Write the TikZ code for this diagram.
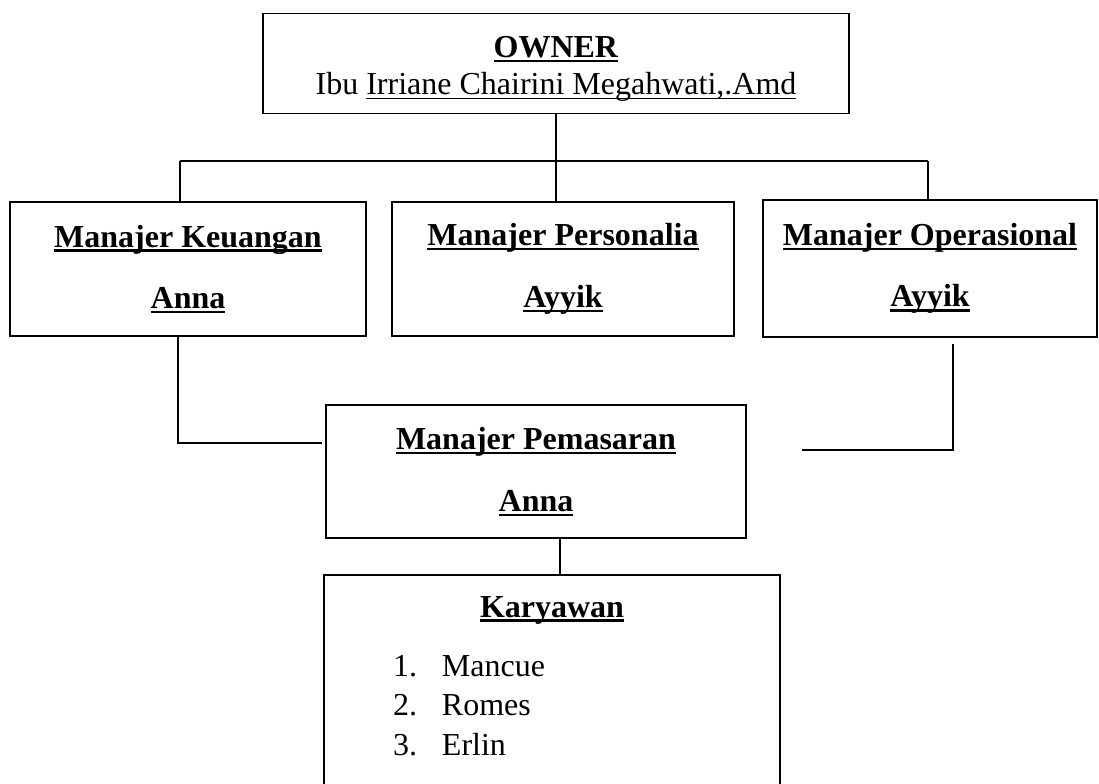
\documentclass[tikz,border=0pt]{standalone}
\usepackage{fontspec}
\setmainfont{Liberation Serif}
\usetikzlibrary{positioning, calc}
\newsavebox{\garisbox}
\newcommand{\garis}[1]{\sbox\garisbox{#1}\usebox\garisbox\llap{\rule[-2.3pt]{\wd\garisbox}{1.1pt}}}
\newcommand{\garistipis}[1]{\sbox\garisbox{#1}\usebox\garisbox\llap{\rule[-2.1pt]{\wd\garisbox}{0.6pt}}}
\newcommand{\jabatan}[2]{\garis{\textbf{#1}}\\[12.4pt]\garis{\textbf{#2}}}
\tikzset{
  kotak/.style = {draw=black, line width=0.9pt, rectangle, align=center,
    inner sep=0pt, font=\fontsize{16pt}{18.4pt}\selectfont},% kotak jabatan
  garisan/.style = {draw=black, line width=0.7pt}% garis penghubung
}
\begin{document}
\begin{tikzpicture}[x=0.5pt, y=-0.5pt]
\useasboundingbox (0,0) rectangle (1099,783);
\clip (0,0) rectangle (1099,783);
% kotak-kotak
\node [kotak, minimum width=293pt, minimum height=50pt] (owner) at (556,63.5)
  {\rule{0pt}{15.8pt}\garis{\textbf{OWNER}}\\[0.3pt] Ibu \garistipis{Irriane Chairini Megahwati,.Amd}};
\node [kotak, minimum width=178pt, minimum height=67pt] (keuangan) at (188,269)
  {\jabatan{Manajer Keuangan}{Anna}};
\node [kotak, minimum width=171pt, minimum height=67pt] (personalia) at (563,269)
  {\jabatan{Manajer Personalia}{Ayyik}};
\node [kotak, minimum width=167pt, minimum height=68.5pt] (operasional) at (930,268.5)
  {\jabatan{Manajer Operasional}{Ayyik}};
\node [kotak, minimum width=210pt, minimum height=66.5pt] (pemasaran) at (536,471.5)
  {\jabatan{Manajer Pemasaran}{Anna}};
\node [kotak, anchor=north] (karyawan) at (552,574)
  {\parbox[c][120pt][t]{228pt}{\fontsize{16pt}{19.75pt}\selectfont
    \vspace*{10.6pt}\centering\garis{\textbf{Karyawan}}\par
    \vspace{9.75pt}\raggedright
    \hspace*{34.5pt}\makebox[24.5pt][l]{1.}Mancue\par
    \hspace*{34.5pt}\makebox[24.5pt][l]{2.}Romes\par
    \hspace*{34.5pt}\makebox[24.5pt][l]{3.}Erlin\par}};
% titik belok
\coordinate (busKiri) at (180,161);
\coordinate (busKanan) at (928,161);
\coordinate (belokKiri) at (178,443);
\coordinate (belokKanan) at (953,450);
\coordinate (ujungKanan) at (802,450);
\coordinate (turun) at (560,0);
% garis penghubung
\draw [garisan] (owner.south) -- (owner.south |- personalia.north);
\draw [garisan] (busKiri) -- (busKanan);
\draw [garisan] (busKiri) -- (busKiri |- keuangan.north);
\draw [garisan] (busKanan) -- (busKanan |- operasional.north);
\draw [garisan, shorten >=1.5pt] (belokKiri |- keuangan.south) -- (belokKiri) -- (belokKiri -| pemasaran.west);
\draw [garisan] ([yshift=-3pt]belokKanan |- operasional.south) -- (belokKanan) -- (ujungKanan);
\draw [garisan] (turun |- pemasaran.south) -- (turun |- karyawan.north);
\end{tikzpicture}
\end{document}
